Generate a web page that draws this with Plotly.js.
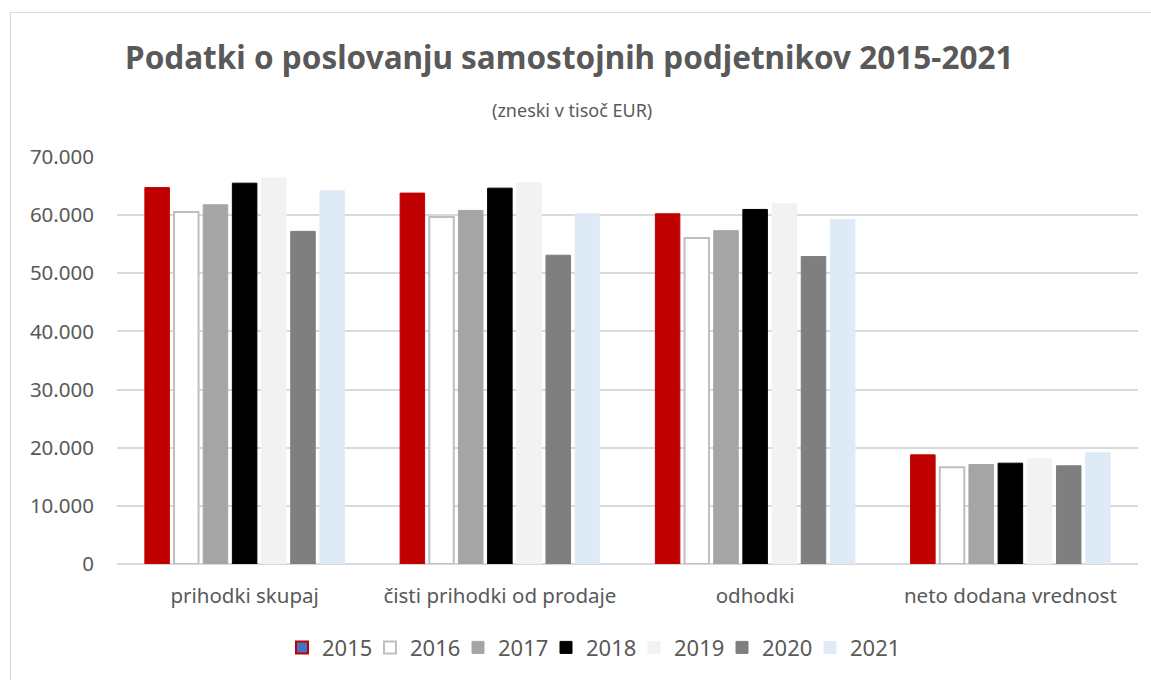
<!DOCTYPE html>
<html>
<head>
<meta charset="utf-8">
<script src="https://cdn.plot.ly/plotly-3.0.1.min.js"></script>
<style>
  html, body { margin: 0; padding: 0; background: #fff; }
  #chart { width: 1151px; height: 680px; }
  #frame { position: absolute; left: 10px; top: 12px; width: 1145px; height: 680px;
           border: 1.5px solid #D9D9D9; pointer-events: none; box-sizing: border-box; }
</style>
</head>
<body>
<div id="chart"></div>
<div id="frame"></div>
<script>
const categories = ["prihodki skupaj", "čisti prihodki od prodaje", "odhodki", "neto dodana vrednost"];
const years = ["2015", "2016", "2017", "2018", "2019", "2020", "2021"];
const v2015 = [64740, 63790, 60240, 18770];
const v2016 = [60530, 59680, 56080, 16650];
const v2017 = [61780, 60810, 57330, 17110];
const v2018 = [65500, 64640, 60980, 17340];
const v2019 = [66400, 65550, 61950, 18090];
const v2020 = [57210, 53110, 52880, 16890];
const v2021 = [64180, 60240, 59270, 19120];
const series = [v2015, v2016, v2017, v2018, v2019, v2020, v2021];
const yTicks = [0, 10000, 20000, 30000, 40000, 50000, 60000, 70000];

const fills = ["#C00000", "#FFFFFF", "#A5A5A5", "#000000", "#F2F2F2", "#7F7F7F", "#DEEBF7"];
const lines = ["#C00000", "#BFBFBF", "#A5A5A5", "#000000", "#F2F2F2", "#7F7F7F", "#DEEBF7"];

const traces = years.map((yr, i) => ({
  type: "bar",
  name: yr,
  x: categories,
  y: series[i],
  offsetgroup: yr,
  marker: { color: fills[i], line: { color: lines[i], width: i === 1 ? 2 : 1 } },
  showlegend: i !== 0,
  legendrank: i + 1,
  hoverinfo: "x+y+name"
}));
// legend swatch for 2015 as shown in the original (blue fill, red outline)
traces.push({
  type: "bar",
  name: years[0],
  x: categories,
  y: categories.map(() => null),
  offsetgroup: years[0],
  marker: { color: "#4472C4", line: { color: "#C00000", width: 2 } },
  showlegend: true,
  legendrank: 1,
  hoverinfo: "skip"
});

const font = "'Noto Sans', 'Open Sans', sans-serif";
const layout = {
  width: 1151, height: 680,
  margin: { l: 117, r: 13, t: 157, b: 114 },
  paper_bgcolor: "#FFFFFF",
  plot_bgcolor: "#FFFFFF",
  separators: ",.",
  barmode: "group",
  bargap: 0.2,
  bargroupgap: 0.16,
  font: { family: font, color: "#595959", size: 18 },
  title: {
    text: "<b>Podatki o poslovanju samostojnih podjetnikov 2015-2021</b>",
    font: { family: font, size: 31.5, color: "#595959" },
    x: 0.443, xref: "paper", xanchor: "center",
    y: 0.915, yref: "container", yanchor: "middle"
  },
  annotations: [{
    text: "(zneski v tisoč EUR)",
    xref: "paper", yref: "paper", x: (572 - 117) / 1021, y: 1.0 + (157 - 110) / 409,
    xanchor: "center", yanchor: "middle", showarrow: false,
    font: { family: font, size: 18, color: "#595959" }
  }],
  xaxis: {
    type: "category",
    showgrid: false, showline: false, ticks: "",
    ticklabelstandoff: 17,
    tickfont: { family: font, size: 20.5, color: "#595959" },
    fixedrange: true
  },
  yaxis: {
    range: [0, 70000],
    tickvals: yTicks,
    tickformat: ",d",
    showgrid: true, gridcolor: "#D9D9D9", gridwidth: 1.5,
    zeroline: true, zerolinecolor: "#D9D9D9", zerolinewidth: 1.5,
    showline: false, ticks: "", ticklen: 0,
    ticklabelstandoff: 22,
    tickfont: { family: font, size: 20.5, color: "#595959" },
    automargin: false
  },
  legend: {
    orientation: "h",
    x: (590 - 117) / 1021, xanchor: "center",
    y: -(650 - 566) / 409, yanchor: "middle",
    itemwidth: 30,
    entrywidth: 43, entrywidthmode: "pixels",
    font: { family: font, size: 22, color: "#595959" },
    traceorder: "normal",
    itemclick: false, itemdoubleclick: false
  }
};

Plotly.newPlot("chart", traces, layout, { displayModeBar: false, staticPlot: false });
</script>
</body>
</html>
